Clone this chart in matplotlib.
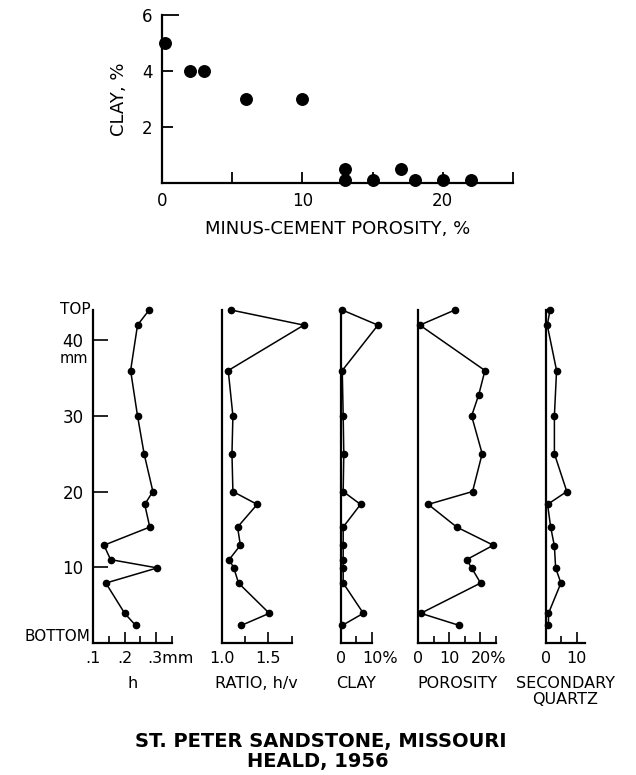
import matplotlib
matplotlib.use("Agg")
import matplotlib.pyplot as plt

plt.rcParams['font.family'] = ['DejaVu Sans']

# 上图: 胶结前孔隙度 vs 粘土
porosity_mc = [0.2, 2, 3, 6, 10, 13, 13, 15, 17, 18, 20, 22]
clay_pct = [5, 4, 4, 3, 3, 0.5, 0.1, 0.1, 0.5, 0.1, 0.1, 0.1]

# 下图: 剖面 (深度 mm)
depth = [44, 42, 36, 30, 25, 20, 18.3, 15.3, 12.9, 11, 9.9, 7.9, 3.9, 2.3]
h_mm = [0.278, 0.241, 0.219, 0.241, 0.262, 0.29, 0.264, 0.28, 0.134, 0.155, 0.304, 0.14, 0.2, 0.235]
ratio_hv = [1.10, 1.88, 1.07, 1.12, 1.11, 1.12, 1.38, 1.17, 1.20, 1.08, 1.13, 1.18, 1.51, 1.21]
clay_prof = [0.5, 12, 0.5, 0.8, 1.0, 0.8, 6.4, 0.8, 0.8, 0.8, 0.8, 0.8, 7.3, 0.5]

depth_por = [44, 42, 36, 32.8, 30, 25, 20, 18.3, 15.3, 12.9, 11, 9.9, 7.9, 3.9, 2.3]
porosity = [11.8, 0.5, 21.5, 19.5, 17.2, 20.6, 17.5, 3.2, 12.4, 24.2, 15.6, 17.2, 20.1, 0.8, 13.2]

depth_qz = [44, 42, 36, 30, 25, 20, 18.3, 15.3, 12.8, 9.9, 7.9, 3.9, 2.3]
sec_quartz = [1.4, 0.5, 3.5, 2.8, 2.8, 6.8, 0.6, 1.6, 2.8, 3.2, 4.9, 0.9, 0.9]

W, H = 636, 775
fig = plt.figure(figsize=(W / 100, H / 100), dpi=100)


def px_axes(x0, x1, y_top, y_bot):
    return fig.add_axes([x0 / W, 1 - y_bot / H, (x1 - x0) / W, (y_bot - y_top) / H])


def style(ax):
    ax.spines['top'].set_visible(False)
    ax.spines['right'].set_visible(False)
    ax.spines['left'].set_linewidth(1.6)
    ax.spines['bottom'].set_linewidth(1.6)
    ax.set_facecolor('none')


# ---- 上方散点图 ----
ax0 = px_axes(162, 513, 15, 182.7)
style(ax0)
ax0.plot(porosity_mc, clay_pct, 'o', color='black', markersize=8.3, clip_on=False)
ax0.set_xlim(0, 25)
ax0.set_ylim(0, 6)
ax0.set_xticks([0, 10, 20])
ax0.set_xticks([5, 15, 25], minor=True)
ax0.set_yticks([2, 4, 6])
ax0.tick_params(axis='both', which='both', direction='in', length=8, width=1.3,
                labelsize=12, pad=7)
ax0.yaxis.get_major_ticks()[-1].tick1line.set_markersize(12)
ax0.set_xlabel('MINUS-CEMENT POROSITY, %', fontsize=13, labelpad=7)
ax0.set_ylabel('CLAY, %', fontsize=13, labelpad=10)

# ---- 下方剖面 ----
panels = [
    (93.3, 171.7, h_mm, depth, (0.1, 0.35), [0.1, 0.2], ['.1', '.2'], [0.15, 0.25, 0.35],
     (0.3, '.3mm'), 'h'),
    (221.7, 291.7, ratio_hv, depth, (1.0, 1.75), [1.0, 1.5], ['1.0', '1.5'], [1.25, 1.75],
     None, 'RATIO, h/v'),
    (340.7, 371.7, clay_prof, depth, (0, 10), [0], ['0'], [5, 10],
     (10, '10%'), 'CLAY'),
    (418.3, 495.8, porosity, depth_por, (0, 25), [0, 10], ['0', '10'], [5, 15, 25],
     (20, '20%'), 'POROSITY'),
    (545.7, 584.5, sec_quartz, depth_qz, (0, 12.5), [0, 10], ['0', '10'], [5],
     None, 'SECONDARY\nQUARTZ'),
]

axes = []
for x0, x1, vals, dep, xlim, ticks, labels, minor, extra, name in panels:
    ax = px_axes(x0, x1, 310, 642.8)
    style(ax)
    ax.plot(vals, dep, '-o', color='black', linewidth=1.1, markersize=4.5, clip_on=False)
    ax.set_xlim(*xlim)
    ax.set_ylim(0, 44)
    ax.set_xticks(ticks)
    ax.set_xticklabels(labels)
    ax.set_xticks(minor, minor=True)
    ax.tick_params(axis='x', which='major', direction='in', length=8, width=1.2,
                   labelsize=11.5, pad=6)
    ax.tick_params(axis='x', which='minor', direction='in', length=5, width=1.2)
    ax.set_yticks([])
    if extra is not None:
        ax.set_xticks(list(ticks) + [extra[0]])
        ax.set_xticklabels(labels + [''])
        ax.annotate(extra[1], xy=(extra[0], 0), xycoords=('data', 'axes fraction'),
                    xytext=(-6.5, -6), textcoords='offset points', ha='left', va='top',
                    fontsize=11.5)
    fig.text((x0 + x1) / 2 / W, 1 - 676 / H, name, ha='center', va='top',
             fontsize=11.5, linespacing=1.05)
    axes.append(ax)

# 深度刻度
ax1 = axes[0]
ax1.set_yticks([10, 20, 30, 40])
ax1.tick_params(axis='y', direction='in', length=11, width=1.2, labelsize=12, pad=7)
ax1.text(-0.04, 44, 'TOP', transform=ax1.get_yaxis_transform(), ha='right', va='center', fontsize=11)
ax1.text(-0.07, 38.6, 'mm', transform=ax1.get_yaxis_transform(), ha='right', va='top', fontsize=10.5)
ax1.text(-0.04, 0.8, 'BOTTOM', transform=ax1.get_yaxis_transform(), ha='right', va='center', fontsize=11)

fig.text(0.505, 1 - 741 / H, 'ST. PETER SANDSTONE, MISSOURI', ha='center', va='center',
         fontsize=14, fontweight='bold')
fig.text(0.5, 1 - 762 / H, 'HEALD, 1956', ha='center', va='center',
         fontsize=14, fontweight='bold')

fig.savefig('out.png', dpi=100, facecolor='white')
